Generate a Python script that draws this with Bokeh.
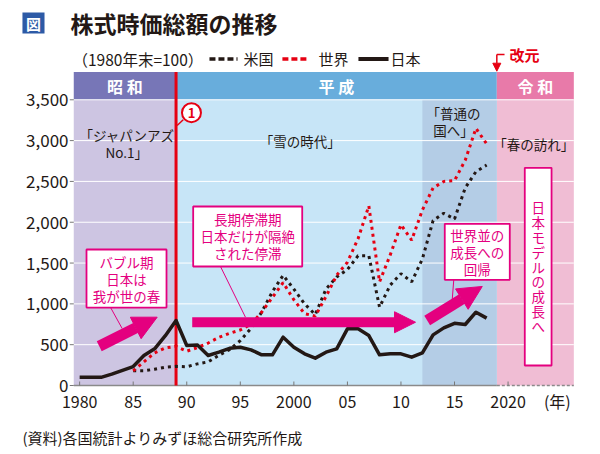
from bokeh.plotting import figure
from bokeh.models import (Range1d, FixedTicker, NumeralTickFormatter, Label, Arrow, NormalHead)
from bokeh.embed import file_html
from bokeh.resources import INLINE

FONT = "Noto Sans CJK JP"
INK = "#231815"
MAGENTA = "#e4007f"
RED = "#e60012"

# ---------------- data (1980年末=100) ----------------
years_japan = list(range(1980, 2019))
japan = [100, 100, 100, 140, 185, 232, 367, 449, 610, 796,
         490, 495, 367, 408, 455, 469, 437, 376, 376, 592,
         469, 388, 335, 408, 449, 694, 694, 612, 376, 388,
         388, 347, 400, 620, 706, 762, 747, 898, 825]

years_us_world = list(range(1985, 2019))
us = [180, 180, 200, 225, 235, 230, 265, 290, 370, 440,
      550, 700, 900, 1150, 1350, 1180, 1000, 870, 1180, 1330,
      1420, 1590, 1590, 960, 1230, 1370, 1270, 1550, 2020, 2110,
      2040, 2420, 2620, 2700]
world = [180, 290, 400, 460, 480, 420, 465, 520, 590, 640,
         680, 750, 900, 1080, 1260, 1050, 880, 850, 1090, 1350,
         1510, 1800, 2200, 1270, 1600, 1970, 1780, 2150, 2420, 2500,
         2510, 2760, 3150, 2960]

x_ticks = [1980, 1985, 1990, 1995, 2000, 2005, 2010, 2015, 2020]
x_tick_labels = ["1980", "85", "90", "95", "2000", "05", "10", "15", "2020"]
x_unit_pos = 2024.6
x_unit_label = "(年)"
y_ticks = [0, 500, 1000, 1500, 2000, 2500, 3000, 3500]

era_labels = ["昭 和", "平 成", "令 和"]
era_bounds = [1979.45, 1989.0, 2018.95, 2026.14]
era_band_colors = ["#7776b7", "#68addc", "#e87aa9"]
era_body_colors = ["#cdc5e2", "#c7e5f7", "#f0bdd4"]
futsuu_start = 2012.0
futsuu_color = "#b4cde6"

BAND_BOTTOM = 3500
BAND_TOP = 3840
TICK_LEN_Y = 49      # 4 px in value units
TICK_LEN_X = 0.37    # 4 px in year units

# one frame covering the whole canvas; axes draw their labels inward
p = figure(width=600, height=454, title=None,
           x_range=Range1d(1972.61, 2028.63),
           y_range=Range1d(-845.25, 4716.25),
           output_backend="svg", toolbar_location=None,
           min_border_left=0, min_border_right=0,
           min_border_top=0, min_border_bottom=0,
           background_fill_color="white", border_fill_color="white",
           outline_line_color=None)

body_l, body_r = era_bounds[0], era_bounds[-1]

# era backgrounds
p.quad(left=era_bounds[:-1], right=era_bounds[1:], bottom=0, top=BAND_BOTTOM,
       fill_color=era_body_colors, line_color=None)
p.quad(left=[futsuu_start], right=[era_bounds[2]], bottom=0, top=BAND_BOTTOM,
       fill_color=futsuu_color, line_color=None)
p.quad(left=era_bounds[:-1], right=era_bounds[1:], bottom=BAND_BOTTOM, top=BAND_TOP,
       fill_color=era_band_colors, line_color=None)
grid_y = y_ticks[1:]
p.segment(x0=[body_l] * len(grid_y), y0=grid_y, x1=[body_r] * len(grid_y), y1=grid_y,
          line_color="white", line_width=1)

# x baseline (solid, then dashed in 令和) and tick marks
p.segment(x0=[body_l], y0=[0], x1=[era_bounds[2]], y1=[0],
          line_color="#8a8a8a", line_width=1.5)
p.segment(x0=[era_bounds[2]], y0=[0], x1=[body_r], y1=[0],
          line_color="#8a8a8a", line_width=1.5, line_dash="3 2")
p.segment(x0=x_ticks, y0=[0] * len(x_ticks), x1=x_ticks, y1=[TICK_LEN_Y] * len(x_ticks),
          line_color="#777777", line_width=1)
p.segment(x0=[body_l - TICK_LEN_X] * len(y_ticks), y0=y_ticks,
          x1=[body_l] * len(y_ticks), y1=y_ticks, line_color="#777777", line_width=1)

# red line at start of 平成
p.segment(x0=[era_bounds[1]], y0=[0], x1=[era_bounds[1]], y1=[BAND_TOP],
          line_color=RED, line_width=3)

# series
p.line(years_us_world, us, line_color=INK, line_width=3, line_dash="3 4")
p.line(years_us_world, world, line_color=RED, line_width=3, line_dash="3 4")
p.line(years_japan, japan, line_color=INK, line_width=3.5, line_join="round")

# axes (labels only, drawn inside the canvas)
p.xaxis.ticker = FixedTicker(ticks=x_ticks + [x_unit_pos])
overrides = {t: l for t, l in zip(x_ticks, x_tick_labels)}
overrides[x_unit_pos] = x_unit_label
p.xaxis.major_label_overrides = overrides
p.xaxis.major_label_standoff = -66
p.xaxis.major_label_text_font_size = "16px"
p.yaxis.ticker = FixedTicker(ticks=y_ticks)
p.yaxis.formatter = NumeralTickFormatter(format="0,0")
p.yaxis.major_label_standoff = -68
p.yaxis.major_label_text_font_size = "17px"
for ax in (p.xaxis, p.yaxis):
    ax.axis_line_color = None
    ax.major_tick_line_color = None
    ax.minor_tick_line_color = None
    ax.major_tick_out = 0
    ax.major_tick_in = 0
    ax.major_label_text_font = FONT
    ax.major_label_text_color = INK
p.xgrid.visible = False
p.ygrid.visible = False


def add_label(x, y, text, size="13.5px", color=INK, align="center", bold=False, lh=1.2):
    p.add_layout(Label(x=x, y=y, text=text, text_font=FONT, text_font_size=size,
                       text_color=color, text_align=align, text_baseline="middle",
                       text_font_style="bold" if bold else "normal",
                       text_line_height=lh))


# title
p.quad(left=[1974.66], right=[1976.72], bottom=[4312], top=[4569],
       fill_color="#2d5aa6", line_color=None)
add_label(1975.69, 4440, "図", size="15px", color="white", bold=True)
add_label(1979.15, 4440, "株式時価総額の推移", size="23px", align="left", bold=True)

# legend row
LEG_Y = 4000
add_label(1979.33, LEG_Y, "（1980年末=100）", size="15.5px", align="left")
p.line([1992.12, 1994.74], [LEG_Y, LEG_Y], line_color=INK, line_width=3.5, line_dash="6 3")
add_label(1995.30, LEG_Y, "米国", size="15px", align="left")
p.line([1998.93, 2001.27], [LEG_Y, LEG_Y], line_color=RED, line_width=3.5, line_dash="6 3")
add_label(2002.30, LEG_Y, "世界", size="15px", align="left")
p.line([2006.03, 2008.84], [LEG_Y, LEG_Y], line_color=INK, line_width=4)
add_label(2009.03, LEG_Y, "日本", size="15px", align="left")

# era names in the band
for l, r, name in zip(era_bounds[:-1], era_bounds[1:], era_labels):
    add_label((l + r) / 2, 3668, name, size="16px", color="white", bold=True)

# 改元
add_label(2021.54, 4055, "改元", size="15px", color=RED, bold=True)
p.line([2019.67, era_bounds[2]], [4055, 4055], line_color=RED, line_width=1.5)
p.add_layout(Arrow(x_start=era_bounds[2], y_start=4055, x_end=era_bounds[2], y_end=3850,
                   line_color=RED, line_width=1.5,
                   end=NormalHead(size=8, fill_color=RED, line_color=RED)))

# circled 1
p.segment(x0=[1989.1], y0=[3185], x1=[1989.67], y1=[3255], line_color=RED, line_width=1.5)
p.scatter([1990.44], [3342], size=19, fill_color="white", line_color=RED, line_width=2)
add_label(1990.44, 3342, "1", size="13px", color=RED, bold=True)

# era phrases
add_label(1984.4, 2970, "「ジャパンアズ\nNo.1」", lh=0.85)
add_label(2000.6, 3000, "「雪の時代」")
add_label(2014.9, 3230, "「普通の\n国へ」", lh=0.85)
add_label(2022.4, 2960, "「春の訪れ」")

# magenta boxes
box_left = [1980.64, 1990.6, 2014.09, 2021.56]
box_right = [1988.11, 2000.78, 2020.16, 2024.06]
box_bottom = [955, 1458, 1295, 245]
box_top = [1666, 2193, 1981, 2667]
box_text = ["バブル期\n日本は\n我が世の春", "長期停滞期\n日本だけが隔絶\nされた停滞",
            "世界並の\n成長への\n回帰", "\n".join("日本モデルの成長へ")]
box_lh = [0.85, 0.85, 0.85, 0.74]

# pointer lines
p.segment(x0=[1982.89, 1993.15, 2014.93], y0=[955, 1458, 1295],
          x1=[1983.97, 1995.48, 2014.78], y1=[698, 837, 1041],
          line_color=MAGENTA, line_width=1)

p.quad(left=box_left, right=box_right, bottom=box_bottom, top=box_top,
       fill_color="white", line_color=MAGENTA, line_width=1.8)
for l, r, b, t, s, lh in zip(box_left, box_right, box_bottom, box_top, box_text, box_lh):
    add_label((l + r) / 2, (b + t) / 2, s, size="13.5px", color=MAGENTA, lh=lh)

# thick magenta arrows
for xs, ys, xe, ye, w, hs in [(1981.83, 481, 1987.24, 837, 11, 24),
                              (1990.51, 775, 2011.36, 775, 10, 21),
                              (2012.45, 796, 2017.59, 1213, 11, 24)]:
    p.add_layout(Arrow(x_start=xs, y_start=ys, x_end=xe, y_end=ye,
                       line_color=MAGENTA, line_width=w,
                       end=NormalHead(size=hs, fill_color=MAGENTA, line_color=MAGENTA)))

# source
add_label(1974.66, -637, "(資料)各国統計よりみずほ総合研究所作成", size="15px", align="left")

open("out.html", "w").write(file_html(p, INLINE))
